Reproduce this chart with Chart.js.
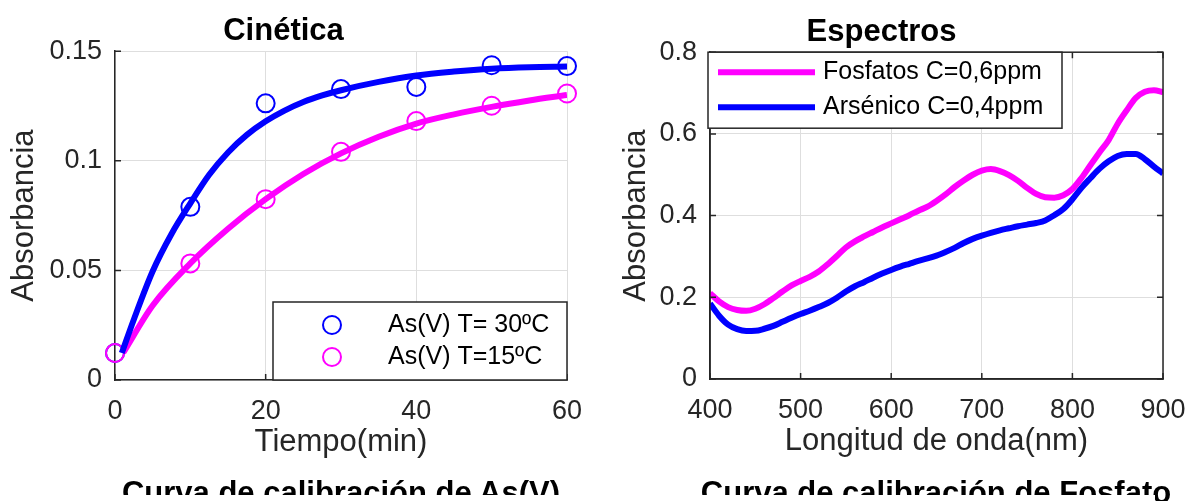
<!DOCTYPE html>
<html lang="es">
<head>
<meta charset="utf-8">
<title>Cinética y Espectros</title>
<script src="https://cdn.jsdelivr.net/npm/chart.js@4.4.1/dist/chart.umd.min.js"></script>
<style>
    html, body { margin: 0; padding: 0; background: #fff; }
    body { width: 1186px; height: 501px; position: relative; overflow: hidden; }
    .panel { position: absolute; top: 0; height: 501px; }
    #panelIzq { left: 0; width: 600px; }
    #panelDer { left: 600px; width: 586px; }
    .pie {
        position: absolute; top: 477px; white-space: nowrap; color: #000;
        font: bold 31px "Liberation Sans", Arial, Helvetica, sans-serif; line-height: 31px;
        transform: translateX(-50%);
    }
    #tapa { position: absolute; left: 0; top: 495px; width: 1155px; height: 6px; background: #fff; z-index: 2; }
</style>
</head>
<body>
<div class="panel" id="panelIzq"><canvas id="cinetica" width="600" height="501"></canvas></div>
<div class="panel" id="panelDer"><canvas id="espectros" width="586" height="501"></canvas></div>
<div class="pie" style="left:341px">Curva de calibración de As(V)</div>
<div class="pie" style="left:936px">Curva de calibración de Fosfato</div>
<div id="tapa"></div>

<script>
// Cinética: puntos medidos (min, absorbancia)
var tiempo = [0, 10, 20, 30, 40, 50, 60];
var abs30 = [0.0123, 0.079, 0.1262, 0.1327, 0.1337, 0.1436, 0.1432];
var abs15 = [0.0123, 0.0532, 0.0825, 0.1041, 0.1181, 0.1251, 0.1307];

// Curvas de ajuste
var tiempoAjuste30 = [0.9, 2.5, 5, 7.5, 10, 12.5, 15, 17.5, 20, 22.5, 25, 27.5, 30, 35, 40, 45, 50, 55, 60];
var ajuste30 = [0.0123, 0.0276, 0.0496, 0.0666, 0.0806, 0.0936, 0.1038, 0.1118, 0.1180, 0.1229, 0.1268, 0.1298, 0.1322, 0.1360, 0.1389, 0.1407, 0.1420, 0.1427, 0.1430];
var tiempoAjuste15 = [1.1, 5, 10, 15, 20, 25, 30, 35, 40, 45, 50, 55, 60];
var ajuste15 = [0.0125, 0.034, 0.0532, 0.069, 0.0825, 0.094, 0.1034, 0.111, 0.117, 0.1212, 0.1246, 0.1275, 0.130];

// Espectros (nm, absorbancia)
var longitudOnda = [400, 410, 420, 430, 440, 450, 460, 470, 480, 490,
    500, 510, 520, 530, 540, 550, 560, 570, 580, 590,
    600, 610, 620, 630, 640, 650, 660, 670, 680, 690,
    700, 710, 720, 730, 740, 750, 760, 770, 780, 790,
    800, 810, 820, 830, 840, 850, 860, 870, 880, 890, 900];
var fosfatos = [0.210, 0.190, 0.176, 0.169, 0.167, 0.172, 0.183, 0.198, 0.214, 0.229,
    0.240, 0.250, 0.263, 0.281, 0.301, 0.322, 0.337, 0.349, 0.360, 0.371,
    0.381, 0.391, 0.401, 0.412, 0.422, 0.436, 0.452, 0.470, 0.486, 0.500,
    0.510, 0.514, 0.509, 0.499, 0.485, 0.468, 0.453, 0.445, 0.444, 0.450,
    0.465, 0.492, 0.524, 0.555, 0.585, 0.625, 0.658, 0.688, 0.703, 0.707, 0.702];
var arsenico = [0.185, 0.155, 0.133, 0.122, 0.1175, 0.118, 0.123, 0.130, 0.140, 0.150,
    0.159, 0.167, 0.176, 0.186, 0.199, 0.214, 0.227, 0.237, 0.248, 0.258,
    0.267, 0.275, 0.282, 0.289, 0.295, 0.302, 0.311, 0.321, 0.333, 0.343,
    0.351, 0.358, 0.364, 0.369, 0.374, 0.378, 0.382, 0.388, 0.401, 0.416,
    0.440, 0.468, 0.492, 0.515, 0.533, 0.546, 0.551, 0.551, 0.538, 0.520, 0.503];

var fuente = "'Liberation Sans', Arial, Helvetica, sans-serif";
var grisEje = '#262626';
var grisRejilla = '#dedede';
var azul = '#0000ff';
var magenta = '#ff00ff';

function puntos(xs, ys) {
    return xs.map(function (x, i) { return { x: x, y: ys[i] }; });
}

// Ticks hacia dentro y caja opcional (estilo MATLAB)
var marcoEjes = {
    id: 'marcoEjes',
    afterDatasetsDraw: function (chart, args, opts) {
        var ctx = chart.ctx, a = chart.chartArea, sx = chart.scales.x, sy = chart.scales.y;
        var len = 6;
        ctx.save();
        ctx.strokeStyle = grisEje;
        ctx.lineWidth = 1.5;
        ctx.beginPath();
        sx.ticks.forEach(function (t) {
            var px = sx.getPixelForValue(t.value);
            ctx.moveTo(px, a.bottom); ctx.lineTo(px, a.bottom - len);
            if (opts.caja) { ctx.moveTo(px, a.top); ctx.lineTo(px, a.top + len); }
        });
        sy.ticks.forEach(function (t) {
            var py = sy.getPixelForValue(t.value);
            ctx.moveTo(a.left, py); ctx.lineTo(a.left + len, py);
            if (opts.caja) { ctx.moveTo(a.right, py); ctx.lineTo(a.right - len, py); }
        });
        ctx.stroke();
        if (opts.caja) ctx.strokeRect(a.left, a.top, a.right - a.left, a.bottom - a.top);
        ctx.restore();
    }
};

// Leyenda con recuadro dentro del area del grafico
var leyendaCaja = {
    id: 'leyendaCaja',
    afterDraw: function (chart, args, opts) {
        if (!opts.items) return;
        var ctx = chart.ctx, a = chart.chartArea;
        var x = opts.esquina === 'abajo' ? a.right - opts.ancho : a.left + opts.dx;
        var y = opts.esquina === 'abajo' ? a.bottom - opts.alto : a.top + opts.dy;
        ctx.save();
        ctx.fillStyle = '#fff';
        ctx.fillRect(x, y, opts.ancho, opts.alto);
        ctx.strokeStyle = grisEje;
        ctx.lineWidth = 1.5;
        ctx.strokeRect(x, y, opts.ancho, opts.alto);
        ctx.font = '25px ' + fuente;
        ctx.textBaseline = 'middle';
        opts.items.forEach(function (idx, i) {
            var ds = chart.data.datasets[idx];
            var cy = y + opts.filas[i];
            ctx.beginPath();
            if (opts.muestra === 'circulo') {
                ctx.arc(x + 59, cy, 9, 0, 2 * Math.PI);
                ctx.lineWidth = 2;
            } else {
                ctx.moveTo(x + 10, cy);
                ctx.lineTo(x + 107, cy);
                ctx.lineWidth = 6;
            }
            ctx.strokeStyle = ds.borderColor;
            ctx.stroke();
            ctx.fillStyle = '#000';
            ctx.fillText(ds.label, x + opts.xTexto, cy);
        });
        ctx.restore();
    }
};

// etiquetas tipo MATLAB: 0.1 en vez de 0.10
function etiqueta(value) {
    return String(Number(value.toFixed(3)));
}

function ejeX(min, max, paso, titulo) {
    return {
        type: 'linear', min: min, max: max,
        ticks: { stepSize: paso, color: grisEje, padding: 15, font: { family: fuente, size: 27 }, callback: etiqueta },
        grid: { color: grisRejilla, drawTicks: false },
        border: { color: grisEje, width: 1.5 },
        title: { display: true, text: titulo, color: grisEje, font: { family: fuente, size: 31 }, padding: { top: 0, bottom: 0 } },
        afterFit: function (scale) {
            scale.height = 81;
            scale.paddingLeft = 0;
            scale.paddingRight = 0;
        }
    };
}

function ejeY(min, max, paso, ancho, margenTitulo) {
    return {
        type: 'linear', min: min, max: max,
        ticks: { stepSize: paso, color: grisEje, padding: 13, font: { family: fuente, size: 27 }, callback: etiqueta },
        grid: { color: grisRejilla, drawTicks: false },
        border: { color: grisEje, width: 1.5 },
        title: { display: true, text: 'Absorbancia', color: grisEje, font: { family: fuente, size: 31 }, padding: { top: margenTitulo, bottom: 0 } },
        afterFit: function (scale) {
            scale.width = ancho;
            scale.paddingTop = 0;
            scale.paddingBottom = 0;
        }
    };
}

function titulo(texto) {
    return {
        display: true, text: texto, color: '#000',
        font: { family: fuente, size: 31, weight: 'bold' },
        padding: { top: 13, bottom: 1 }
    };
}

Chart.defaults.animation = false;

var cineticaChart = new Chart(document.getElementById('cinetica').getContext('2d'), {
    type: 'scatter',
    data: {
        datasets: [{
            label: 'Ajuste 30ºC',
            data: puntos(tiempoAjuste30, ajuste30),
            showLine: true, borderColor: azul, borderWidth: 6, pointRadius: 0,
            cubicInterpolationMode: 'monotone'
        }, {
            label: 'Ajuste 15ºC',
            data: puntos(tiempoAjuste15, ajuste15),
            showLine: true, borderColor: magenta, borderWidth: 6, pointRadius: 0,
            cubicInterpolationMode: 'monotone'
        }, {
            label: 'As(V) T=15ºC',
            data: puntos(tiempo, abs15),
            borderColor: magenta, backgroundColor: 'rgba(0,0,0,0)',
            pointRadius: 9, pointBorderWidth: 2, clip: false
        }, {
            label: 'As(V) T= 30ºC',
            data: puntos(tiempo, abs30),
            borderColor: azul, backgroundColor: 'rgba(0,0,0,0)',
            pointRadius: 9, pointBorderWidth: 2, clip: false
        }]
    },
    options: {
        responsive: false,
        devicePixelRatio: 1,
        layout: { padding: { left: 0, right: 33, top: 0, bottom: 40 } },
        scales: {
            x: ejeX(0, 60, 20, 'Tiempo(min)'),
            y: ejeY(0, 0.15, 0.05, 115, 6)
        },
        plugins: {
            title: titulo('Cinética'),
            legend: { display: false },
            tooltip: { enabled: false },
            marcoEjes: { caja: false },
            leyendaCaja: { items: [3, 2], esquina: 'abajo', ancho: 294, alto: 78, filas: [23, 55], muestra: 'circulo', xTexto: 115 }
        }
    },
    plugins: [marcoEjes, leyendaCaja]
});

var espectrosChart = new Chart(document.getElementById('espectros').getContext('2d'), {
    type: 'scatter',
    data: {
        datasets: [{
            label: 'Fosfatos C=0,6ppm',
            data: puntos(longitudOnda, fosfatos),
            showLine: true, borderColor: magenta, borderWidth: 6, pointRadius: 0,
            cubicInterpolationMode: 'monotone'
        }, {
            label: 'Arsénico C=0,4ppm',
            data: puntos(longitudOnda, arsenico),
            showLine: true, borderColor: azul, borderWidth: 6, pointRadius: 0,
            cubicInterpolationMode: 'monotone'
        }]
    },
    options: {
        responsive: false,
        devicePixelRatio: 1,
        layout: { padding: { left: 0, right: 23, top: 1, bottom: 41 } },
        scales: {
            x: ejeX(400, 900, 100, 'Longitud de onda(nm)'),
            y: ejeY(0, 0.8, 0.2, 110, 18)
        },
        plugins: {
            title: titulo('Espectros'),
            legend: { display: false },
            tooltip: { enabled: false },
            marcoEjes: { caja: true },
            leyendaCaja: { items: [0, 1], esquina: 'arriba', dx: -2, dy: 0, ancho: 354, alto: 76, filas: [20, 55], muestra: 'linea', xTexto: 115 }
        }
    },
    plugins: [marcoEjes, leyendaCaja]
});
</script>
</body>
</html>
